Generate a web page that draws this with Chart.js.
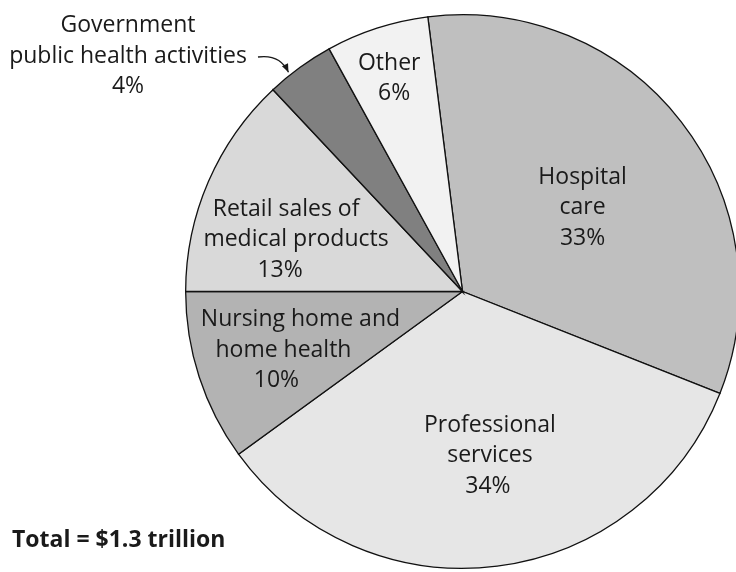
<!DOCTYPE html>
<html>
<head>
<meta charset="utf-8">
<script src="https://cdn.jsdelivr.net/npm/chart.js@4.4.0/dist/chart.umd.min.js"></script>
<style>
  html, body { margin: 0; padding: 0; background: #fff; overflow: hidden; }
  .chart-container { position: absolute; left: 0; top: 0; width: 745px; height: 572px; }
</style>
</head>
<body>
<div class="chart-container">
  <canvas id="chart"></canvas>
</div>
<script>
// Ausgabenanteile (Prozent), im Uhrzeigersinn ab "Hospital care"
const categories = [
  "Hospital care",
  "Professional services",
  "Nursing home and home health",
  "Retail sales of medical products",
  "Government public health activities",
  "Other",
];
const shares = [33, 34, 10, 13, 4, 6];
const labelLines = [
  ["Hospital", "care"],
  ["Professional", "services"],
  ["Nursing home and", "home health"],
  ["Retail sales of", "medical products"],
  ["Government", "public health activities"],
  ["Other"],
];
const totalText = "Total = $1.3 trillion";

const fills = ["#bfbfbf", "#e6e6e6", "#b3b3b3", "#d9d9d9", "#808080", "#f2f2f2"];

// Lage der Beschriftungen: Radiusfaktor, Winkelkorrektur (Grad), Versatz je Zeile
const labelPlace = [
  { fac: 0.53, dAng: 2.7, dx: [0, 0, 0] },
  { fac: 0.6, dAng: -2.3, dx: [0, 0, -2] },
  { fac: 0.68, dAng: 0, dx: [17, 0, -7] },
  { fac: 0.63, dAng: -6, dx: [-10, 0, -16] },
  null, // steht ausserhalb, mit Pfeil
  { fac: 0.81, dAng: 0, dx: [-4, 1] },
];

const FONT = "23px 'Open Sans'";
const LINE = 30.5;

const labelPlugin = {
  id: "sliceLabels",
  afterDraw(chart) {
    const ctx = chart.ctx;
    const arcs = chart.getDatasetMeta(0).data;
    ctx.save();
    ctx.fillStyle = "#1a1a1a";
    ctx.font = FONT;
    ctx.textAlign = "center";
    ctx.textBaseline = "alphabetic";

    arcs.forEach((arc, i) => {
      const place = labelPlace[i];
      if (!place) return;
      const p = arc.getProps(["x", "y", "startAngle", "endAngle", "outerRadius"], true);
      const mid = (p.startAngle + p.endAngle) / 2 + (place.dAng * Math.PI) / 180;
      const cx = p.x + Math.cos(mid) * p.outerRadius * place.fac;
      const cy = p.y + Math.sin(mid) * p.outerRadius * place.fac;
      const lines = labelLines[i].concat([shares[i] + "%"]);
      const start = cy + 7 - ((lines.length - 1) / 2) * LINE;
      lines.forEach((t, k) => {
        ctx.fillText(t, cx + (place.dx[k] || 0), start + k * LINE);
      });
    });

    // Government-Anteil: Text links oben, Pfeil zum Segment
    const gi = 4;
    const g = arcs[gi].getProps(["x", "y", "startAngle", "endAngle", "outerRadius"], true);
    const gl = labelLines[gi].concat([shares[gi] + "%"]);
    gl.forEach((t, k) => ctx.fillText(t, 128, 32 + k * 30.5));

    const a = g.startAngle + 0.33 * (g.endAngle - g.startAngle);
    const tipX = g.x + Math.cos(a) * (g.outerRadius + 3);
    const tipY = g.y + Math.sin(a) * (g.outerRadius + 3);
    const sx = 258, sy = 57;
    const qx = 280, qy = 54;
    ctx.strokeStyle = "#1a1a1a";
    ctx.lineWidth = 1.3;
    ctx.beginPath();
    ctx.moveTo(sx, sy);
    ctx.quadraticCurveTo(qx, qy, tipX, tipY);
    ctx.stroke();
    const ang = Math.atan2(tipY - qy, tipX - qx);
    ctx.beginPath();
    ctx.moveTo(tipX, tipY);
    ctx.lineTo(tipX - 9 * Math.cos(ang - 0.38), tipY - 9 * Math.sin(ang - 0.38));
    ctx.lineTo(tipX - 9 * Math.cos(ang + 0.38), tipY - 9 * Math.sin(ang + 0.38));
    ctx.closePath();
    ctx.fillStyle = "#1a1a1a";
    ctx.fill();

    // Summe unten links
    ctx.textAlign = "left";
    ctx.font = "bold 23px 'Open Sans'";
    ctx.fillText(totalText, 12, 547);
    ctx.restore();
  },
};

const canvas = document.querySelector("#chart");
const ctx = canvas.getContext("2d");

new Chart(ctx, {
  type: "pie",
  data: {
    labels: categories,
    datasets: [
      {
        data: shares,
        backgroundColor: fills,
        borderColor: "#111",
        borderWidth: 1.3,
        borderJoinStyle: "miter",
      },
    ],
  },
  options: {
    responsive: true,
    maintainAspectRatio: false,
    animation: false,
    rotation: -7.2,
    layout: { padding: { left: 185, top: 14, right: 5, bottom: 3 } },
    plugins: {
      legend: { display: false },
      tooltip: { enabled: false },
    },
  },
  plugins: [labelPlugin],
});
</script>
</body>
</html>
